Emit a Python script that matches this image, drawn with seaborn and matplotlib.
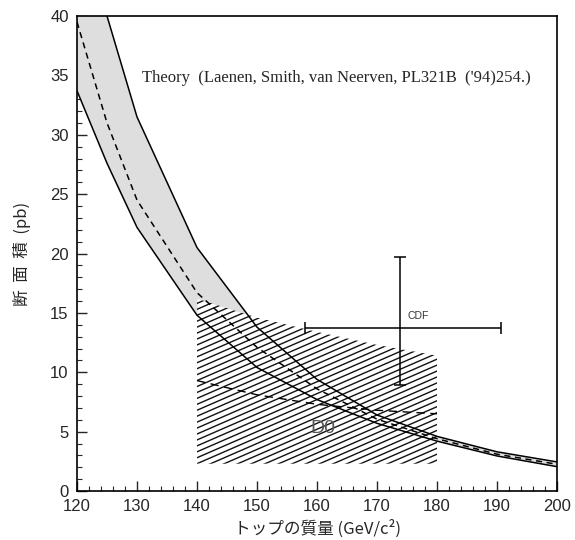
import numpy as np
import pandas as pd
import matplotlib
matplotlib.use("Agg")
import matplotlib.pyplot as plt
from matplotlib.ticker import MultipleLocator
import seaborn as sns

# ---- data ----
mass = [120, 125, 130, 140, 150, 160, 170, 180, 190, 200]
theory_upper = [49.0, 40.0, 31.5, 20.5, 13.8, 9.4, 6.4, 4.6, 3.3, 2.45]
theory_lower = [33.7, 27.6, 22.2, 14.8, 10.4, 7.7, 5.7, 4.2, 2.95, 2.05]
theory_central = [39.5, 31.0, 24.5, 16.7, 12.1, 8.6, 6.05, 4.4, 3.1, 2.25]

d0_mass = [140, 150, 160, 170, 180]
d0_upper = [16.2, 14.6, 13.4, 12.3, 11.4]
d0_lower = [2.3, 2.3, 2.3, 2.3, 2.3]
d0_central = [9.3, 8.1, 7.3, 6.8, 6.5]

cdf_mass = [173.8]
cdf_sigma = [13.7]
cdf_mass_err = [[15.8], [16.9]]
cdf_sigma_err = [[4.8], [6.0]]

xticks = [120, 130, 140, 150, 160, 170, 180, 190, 200]
yticks = [0, 5, 10, 15, 20, 25, 30, 35, 40]

theory_text = "Theory  (Laenen, Smith, van Neerven, PL321B  ('94)254.)"
ylabel = "断  面  積  (pb)"
xlabel = "トップの質量 (GeV/c²)"

# ---- figure ----
sns.set_theme(style="ticks")
plt.rcParams["font.family"] = ["Liberation Sans", "Noto Sans CJK JP", "DejaVu Sans"]

fig = plt.figure(figsize=(5.75, 5.40), dpi=100)
ax = fig.add_axes([77 / 575, 1 - 491 / 540, 480 / 575, 475 / 540])

# theory band (gray)
ax.fill_between(mass, theory_lower, theory_upper, color="#dedede", lw=0, zorder=1)

# D0 hatched region
poly = ax.fill_between(d0_mass, d0_lower, d0_upper, facecolor="white", lw=0, zorder=2)
slope = 0.22
xs = np.array([138.0, 182.0])
for c in np.arange(-15, 25, 0.5):
    hl, = ax.plot(xs, d0_lower[0] + c + slope * (xs - 140), color="#111111", lw=1.0, zorder=3)
    hl.set_clip_path(poly.get_paths()[0], ax.transData)

df_d0 = pd.DataFrame({"m": d0_mass, "s": d0_central})
sns.lineplot(data=df_d0, x="m", y="s", ax=ax, color="black", lw=1.0,
             linestyle=(0, (6, 4)), zorder=4)

# theory curves
df_th = pd.DataFrame({"m": mass, "up": theory_upper, "lo": theory_lower, "c": theory_central})
sns.lineplot(data=df_th, x="m", y="up", ax=ax, color="black", lw=1.1, zorder=5)
sns.lineplot(data=df_th, x="m", y="lo", ax=ax, color="black", lw=1.1, zorder=5)
sns.lineplot(data=df_th, x="m", y="c", ax=ax, color="black", lw=1.1,
             linestyle=(0, (4, 3)), zorder=5)

# CDF point
ax.errorbar(cdf_mass, cdf_sigma, xerr=cdf_mass_err, yerr=cdf_sigma_err, fmt="none",
            ecolor="black", elinewidth=1.1, capsize=4, capthick=1.1, zorder=6)
ax.text(cdf_mass[0] + 1.2, cdf_sigma[0] + 0.6, "CDF", fontsize=7.5, color="#333333",
        ha="left", va="bottom", zorder=7)
ax.text(161, 5.3, "D0", fontsize=14, color="#555555", ha="center", va="center", zorder=7)

ax.text(130.8, 34.8, theory_text, fontsize=12, family=["Liberation Serif", "DejaVu Serif"],
        ha="left", va="center", zorder=7)

# axes styling
ax.set_xlim(120, 200)
ax.set_ylim(0, 40)
ax.set_xticks(xticks)
ax.set_yticks(yticks)
ax.xaxis.set_minor_locator(MultipleLocator(2))
ax.yaxis.set_minor_locator(MultipleLocator(1))
ax.tick_params(which="major", direction="in", length=7, width=1.0, labelsize=12,
               top=False, right=False, pad=6)
ax.tick_params(which="minor", direction="in", length=3.5, width=0.8, top=False, right=False)
for sp in ax.spines.values():
    sp.set_visible(True)
    sp.set_linewidth(1.2)
    sp.set_color("black")

ax.set_xlabel(xlabel, fontsize=12, family=["Noto Sans CJK JP", "DejaVu Sans"], labelpad=4)
ax.set_ylabel(ylabel, fontsize=12, family=["Noto Sans CJK JP", "DejaVu Sans"], labelpad=14)

fig.savefig("out.png", dpi=100, facecolor="white")
